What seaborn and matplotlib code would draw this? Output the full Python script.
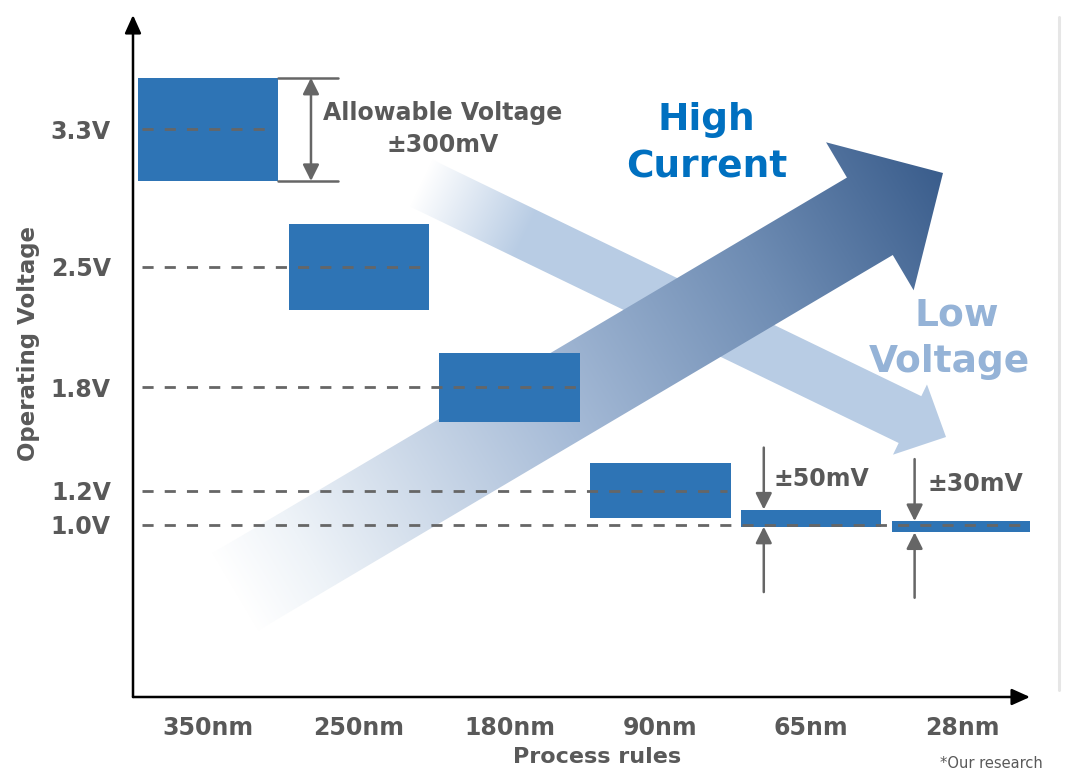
import numpy as np
import pandas as pd
import matplotlib
matplotlib.use("Agg")
import matplotlib.pyplot as plt
from matplotlib.patches import Polygon
from matplotlib.colors import to_rgb
import seaborn as sns

# Voltage window per process node (centre and +/- tolerance, in volts)
nodes = ["350nm", "250nm", "180nm", "90nm", "65nm", "28nm"]
centers = [3.3, 2.5, 1.8, 1.2, 1.04, 0.99]
tolerance = [0.30, 0.25, 0.20, 0.16, 0.05, 0.033]

# nominal voltages on the y axis and the node where each guide line stops
volt_ticks = [3.3, 2.5, 1.8, 1.2, 1.0]
volt_labels = ["3.3V", "2.5V", "1.8V", "1.2V", "1.0V"]
guide_stop = [0, 1, 2, 3, 5]

# tolerance callouts
tol_labels = {"350nm": "±300mV", "65nm": "±50mV", "28nm": "±30mV"}

BOX = "#2e74b5"
GRAY = "#595959"
ARROW_GRAY = "#666666"

low = np.array(centers) - np.array(tolerance)
df = pd.DataFrame({"node": nodes, "low": low, "span": 2 * np.array(tolerance)})

sns.set_theme(style="white")
plt.rcParams["font.family"] = ["DejaVu Sans"]

W, H = 1068, 774
fig = plt.figure(figsize=(W / 100, H / 100), dpi=100)

# background layer in pixel coordinates for the decorative arrows
bg = fig.add_axes([0, 0, 1, 1], zorder=0)
bg.set_xlim(0, W)
bg.set_ylim(H, 0)
bg.axis("off")


def gradient_arrow(axis, tail, tip, half_w, head_len, head_half_w, stops, z):
    tail = np.array(tail, float)
    tip = np.array(tip, float)
    d = tip - tail
    L = np.hypot(*d)
    u = d / L
    n = np.array([-u[1], u[0]])
    base = tip - u * head_len
    pts = [tail + n * half_w, base + n * half_w, base + n * head_half_w, tip,
           base - n * head_half_w, base - n * half_w, tail - n * half_w]
    poly = Polygon(pts, closed=True, facecolor="none", edgecolor="none", zorder=z)
    axis.add_patch(poly)
    X, Y = np.meshgrid(np.arange(W) + 0.5, np.arange(H) + 0.5)
    t = np.clip(((X - tail[0]) * u[0] + (Y - tail[1]) * u[1]) / L, 0, 1)
    pos = [s[0] for s in stops]
    cols = np.array([to_rgb(s[1]) for s in stops])
    img = np.stack([np.interp(t, pos, cols[:, k]) for k in range(3)], axis=-1)
    im = axis.imshow(img, extent=(0, W, H, 0), origin="upper", aspect="auto",
                     zorder=z, interpolation="bilinear")
    im.set_clip_path(poly)


gradient_arrow(bg, (421, 183), (946, 437), 26, 40, 39,
               [(0, "#ffffff"), (0.2, "#b8cce4"), (1, "#b8cce4")], 1)
gradient_arrow(bg, (235, 592), (943, 173), 45, 85, 86,
               [(0, "#ffffff"), (0.1, "#eef3f8"), (0.45, "#a6bbd7"),
                (0.75, "#6e8cb3"), (1, "#3a5d8c")], 2)
bg.set_xlim(0, W)
bg.set_ylim(H, 0)

# right-hand separator
bg.plot([1059, 1059], [17, 690], color="#e6e6e6", lw=2.2, zorder=1)

# headline texts
bg.text(706, 130, "High", color="#0070c0", fontsize=27, fontweight="bold", ha="center", va="baseline", zorder=5)
bg.text(707, 178, "Current", color="#0070c0", fontsize=27, fontweight="bold", ha="center", va="baseline", zorder=5)
bg.text(957, 325, "Low", color="#95b3d7", fontsize=27, fontweight="bold", ha="center", va="baseline", zorder=5)
bg.text(949, 372, "Voltage", color="#95b3d7", fontsize=27, fontweight="bold", ha="center", va="baseline", zorder=5)
bg.text(443, 120, "Allowable Voltage", color=GRAY, fontsize=17, fontweight="bold", ha="center", va="baseline", zorder=5)
bg.text(443, 152, tol_labels["350nm"], color=GRAY, fontsize=17, fontweight="bold", ha="center", va="baseline", zorder=5)
bg.text(773, 486, tol_labels["65nm"], color=GRAY, fontsize=17, fontweight="bold", ha="left", va="baseline", zorder=5)
bg.text(927, 491, tol_labels["28nm"], color=GRAY, fontsize=17, fontweight="bold", ha="left", va="baseline", zorder=5)
bg.text(1043, 768, "*Our research", color=GRAY, fontsize=10.5, ha="right", va="baseline", zorder=5)

# main chart axes
ax = fig.add_axes([133 / W, 1 - 697 / H, 897 / W, 682 / H], zorder=1)
ax.patch.set_alpha(0)

sns.barplot(data=df, x="node", y="span", bottom=df["low"].values, order=nodes,
            color=BOX, saturation=1, width=0.93, errorbar=None, ax=ax,
            linewidth=0, zorder=2)

ax.set_xlim(-0.497, 5.45)
ax.set_ylim(0, 3.965)

# dashed guides at nominal voltages
for v, stop in zip(volt_ticks, guide_stop):
    ax.plot([-0.44, stop + 0.44], [v, v], color="#666666", lw=2.0,
            dashes=(4, 4), zorder=3)

# tolerance markers
hw = 0.465
ax.plot([hw, 0.86], [low[0], low[0]], color=ARROW_GRAY, lw=1.8, zorder=3)
ax.plot([hw, 0.86], [low[0] + 2 * tolerance[0]] * 2, color=ARROW_GRAY, lw=1.8, zorder=3)
ax.annotate("", xy=(0.683, low[0] + 2 * tolerance[0]), xytext=(0.683, low[0]),
            arrowprops=dict(arrowstyle="<|-|>,head_length=0.7,head_width=0.35",
                            color=ARROW_GRAY, lw=1.8, mutation_scale=14,
                            shrinkA=0, shrinkB=0), zorder=3)
for i in (4, 5):
    xa = i - 0.315
    top = centers[i] + tolerance[i]
    bot = centers[i] - tolerance[i]
    ax.annotate("", xy=(xa, top), xytext=(xa, top + 0.36),
                arrowprops=dict(arrowstyle="-|>,head_length=0.7,head_width=0.35",
                                color=ARROW_GRAY, lw=1.8, mutation_scale=14,
                                shrinkA=0, shrinkB=0), zorder=3)
    ax.annotate("", xy=(xa, bot), xytext=(xa, bot - 0.38),
                arrowprops=dict(arrowstyle="-|>,head_length=0.7,head_width=0.35",
                                color=ARROW_GRAY, lw=1.8, mutation_scale=14,
                                shrinkA=0, shrinkB=0), zorder=3)

# axes with arrow heads
for s in ax.spines.values():
    s.set_visible(False)
ax.annotate("", xy=(0, 1), xytext=(0, 0), xycoords="axes fraction",
            arrowprops=dict(arrowstyle="-|>,head_length=1.0,head_width=0.45",
                            color="black", lw=1.8, mutation_scale=11,
                            shrinkA=0, shrinkB=0), annotation_clip=False)
ax.annotate("", xy=(1, 0), xytext=(0, 0), xycoords="axes fraction",
            arrowprops=dict(arrowstyle="-|>,head_length=1.0,head_width=0.45",
                            color="black", lw=1.8, mutation_scale=11,
                            shrinkA=0, shrinkB=0), annotation_clip=False)

ax.set_yticks(volt_ticks)
ax.set_yticklabels(volt_labels)
ax.set_xticks(range(len(nodes)))
ax.set_xticklabels(nodes)
ax.tick_params(axis="both", length=0, colors=GRAY, labelsize=17)
ax.tick_params(axis="y", pad=16)
ax.tick_params(axis="x", pad=14)
for lab in ax.get_xticklabels() + ax.get_yticklabels():
    lab.set_fontweight("bold")

ax.set_xlabel("Process rules", fontsize=16, fontweight="bold", color=GRAY)
ax.set_ylabel("Operating Voltage", fontsize=16.5, fontweight="bold", color=GRAY)
ax.xaxis.set_label_coords(0.517, -0.074)
ax.yaxis.set_label_coords(-0.104, 0.518)

fig.savefig("out.png", dpi=100)
